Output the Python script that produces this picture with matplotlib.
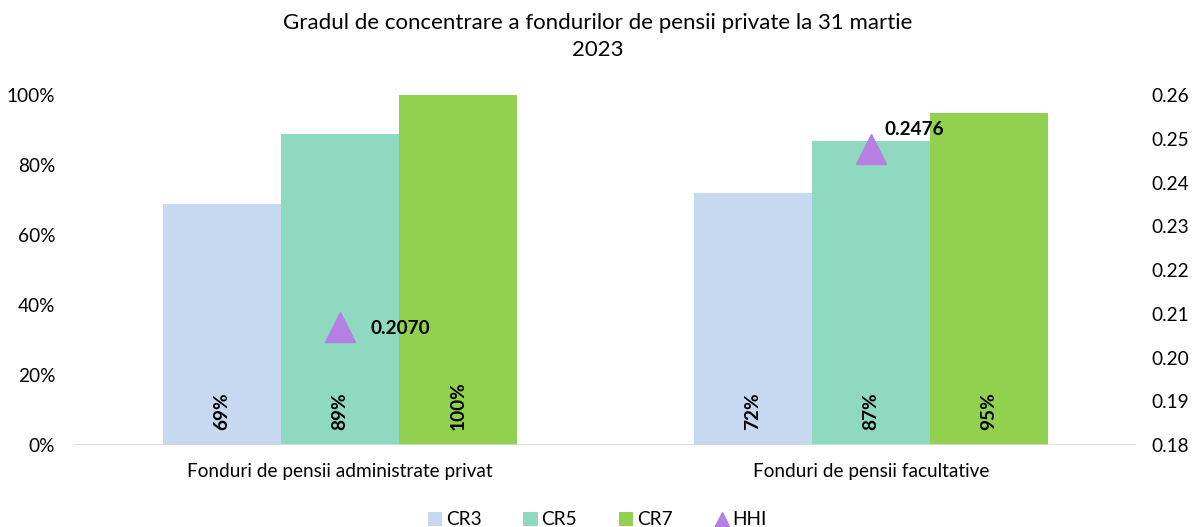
import numpy as np
import matplotlib.pyplot as plt
from matplotlib.ticker import PercentFormatter

plt.rcParams['font.family'] = ['Lato', 'DejaVu Sans']

# data
categories = ['Fonduri de pensii administrate privat', 'Fonduri de pensii facultative']
cr3 = [0.69, 0.72]
cr5 = [0.89, 0.87]
cr7 = [1.00, 0.95]
hhi = [0.2070, 0.2476]
bar_labels = [['69%', '89%', '100%'], ['72%', '87%', '95%']]

colors = ['#c6d9f0', '#8ed9bf', '#92d050']
hhi_color = '#b57fe3'
fs = 13.7

fig = plt.figure(figsize=(11.95, 5.27), dpi=100)
ax = fig.add_axes([0.0623, 0.1556, 0.8887, 0.6641])
ax2 = ax.twinx()

x = np.arange(len(categories))
w = 0.222
series = [('CR3', cr3), ('CR5', cr5), ('CR7', cr7)]
for i, (name, vals) in enumerate(series):
    pos = x + (i - 1) * w
    ax.bar(pos, vals, width=w, color=colors[i], label=name, zorder=2)
    for j, p in enumerate(pos):
        ax.annotate(bar_labels[j][i], (p, 0), xytext=(0, 11), textcoords='offset points',
                    rotation=90, ha='center', va='bottom', fontsize=fs,
                    fontweight='bold', zorder=5)

ax2.plot(x, hhi, linestyle='none', marker='^', markersize=22, color=hhi_color,
         label='HHI', zorder=4)
ax2.annotate(f'{hhi[0]:.4f}', (x[0], hhi[0]), xytext=(22, -1), textcoords='offset points',
             ha='left', va='center', fontsize=fs, fontweight='bold')
ax2.annotate(f'{hhi[1]:.4f}', (x[1], hhi[1]), xytext=(10, 14), textcoords='offset points',
             ha='left', va='center', fontsize=fs, fontweight='bold')

ax.set_xlim(-0.5, 1.5)
ax.set_ylim(0, 1.0)
ax.set_yticks(np.arange(0, 1.01, 0.2))
ax.yaxis.set_major_formatter(PercentFormatter(1.0, decimals=0))
ax2.set_ylim(0.18, 0.26)
ax2.set_yticks(np.arange(0.18, 0.2601, 0.01))
ax2.yaxis.set_major_formatter(plt.FuncFormatter(lambda v, p: f'{v:.2f}'))

ax.set_xticks(x)
ax.set_xticklabels(categories, fontsize=fs)
ax.tick_params(axis='x', length=0, pad=13)
ax.tick_params(axis='y', length=0, labelsize=fs, pad=14)
ax2.tick_params(axis='y', length=0, labelsize=fs, pad=11)

for a in (ax, ax2):
    for s in a.spines.values():
        s.set_visible(False)
ax.axhline(0, color='#d9d9d9', linewidth=1.2, zorder=3)

ax.set_zorder(ax2.get_zorder() - 1)
ax.patch.set_visible(False)

fig.suptitle('Gradul de concentrare a fondurilor de pensii private la 31 martie\n2023',
             x=0.5, y=0.975, fontsize=16, linespacing=1.45)

h1, l1 = ax.get_legend_handles_labels()
h2, l2 = ax2.get_legend_handles_labels()
leg = fig.legend(h1 + h2, l1 + l2, loc='lower center', bbox_to_anchor=(0.5, -0.035),
                 ncol=4, frameon=False, fontsize=fs, handlelength=0.75,
                 handleheight=0.75, columnspacing=2.2, handletextpad=0.2, markerscale=0.45)

fig.savefig('out.png', dpi=100)
